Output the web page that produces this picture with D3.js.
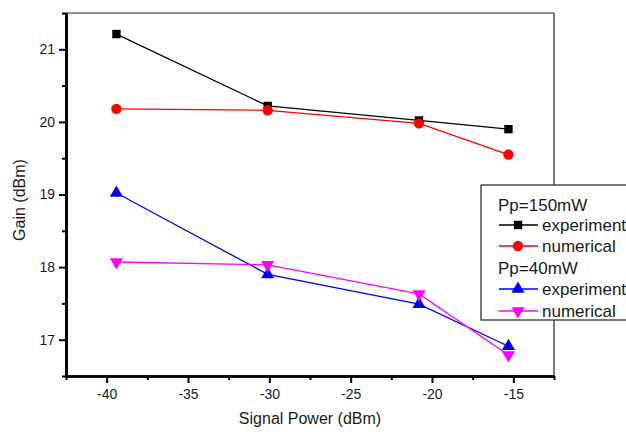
<!DOCTYPE html>
<html>
<head>
<meta charset="utf-8">
<style>
  body { margin: 0; background: #fff; }
  svg { display: block; font-family: "Liberation Sans", Arial, sans-serif; }
</style>
</head>
<body>
<div id="chart"></div>
<script src="https://cdnjs.cloudflare.com/ajax/libs/d3/7.8.5/d3.min.js"></script>
<script>
// signal power (dBm)
var signalPower = [-39.4, -30.1, -20.8, -15.3];
// gain values, Pp=150mW
var exp150 = [21.21, 20.22, 20.02, 19.90];
var num150 = [20.18, 20.16, 19.98, 19.55];
// gain values, Pp=40mW
var exp40 = [19.02, 17.90, 17.49, 16.91];
var num40 = [18.07, 18.03, 17.63, 16.79];

var xMajor = [-40, -35, -30, -25, -20, -15];
var xMinor = [-42.5, -37.5, -32.5, -27.5, -22.5, -17.5, -12.5];
var yMajor = [17, 18, 19, 20, 21];
var yMinor = [16.5, 17.5, 18.5, 19.5, 20.5, 21.5];

var series = [
  { name: "experiment", values: exp150, color: "#000000", sym: "square" },
  { name: "numerical",  values: num150, color: "#ff0000", sym: "circle" },
  { name: "experiment", values: exp40,  color: "#0000ff", sym: "up" },
  { name: "numerical",  values: num40,  color: "#ff00ff", sym: "down" }
];

var W = 626, H = 432;
var pLeft = 66, pRight = 554, pTop = 13, pBottom = 376;

var svg = d3.select("#chart").append("svg")
  .attr("width", W).attr("height", H);

var x = d3.scaleLinear().domain([-42.5, -12.5]).range([pLeft, pRight]);
var y = d3.scaleLinear().domain([16.5, 21.5]).range([pBottom, pTop]);

// plain hyphen minus like the original plot
var fmt = function (d) { return String(d); };

// thin frame top / right
svg.append("line").attr("x1", pLeft).attr("x2", pRight).attr("y1", pTop).attr("y2", pTop)
  .attr("stroke", "#222").attr("stroke-width", 1.2);
svg.append("line").attr("x1", pRight).attr("x2", pRight).attr("y1", pTop).attr("y2", pBottom)
  .attr("stroke", "#222").attr("stroke-width", 1.2);

function styleAxis(g) {
  g.select(".domain").attr("stroke", "#000").attr("stroke-width", 2.6);
  g.selectAll(".tick line").attr("stroke", "#000").attr("stroke-width", 2);
  g.selectAll(".tick text").attr("fill", "#1a1a1a").style("font-size", "14px");
}

// bottom axis
var gx = svg.append("g").attr("transform", "translate(0," + pBottom + ")");
gx.call(d3.axisBottom(x).tickValues(xMinor).tickSize(4).tickSizeOuter(0).tickFormat(""));
var gx2 = svg.append("g").attr("transform", "translate(0," + pBottom + ")");
gx2.call(d3.axisBottom(x).tickValues(xMajor).tickSize(7).tickSizeOuter(0).tickPadding(6)
  .tickFormat(fmt));
styleAxis(gx); styleAxis(gx2);

// left axis
var gy = svg.append("g").attr("transform", "translate(" + pLeft + ",0)");
gy.call(d3.axisLeft(y).tickValues(yMinor).tickSize(4).tickSizeOuter(0).tickFormat(""));
var gy2 = svg.append("g").attr("transform", "translate(" + pLeft + ",0)");
gy2.call(d3.axisLeft(y).tickValues(yMajor).tickSize(7).tickSizeOuter(0).tickPadding(4)
  .tickFormat(fmt));
styleAxis(gy); styleAxis(gy2);

// axis titles
svg.append("text").attr("x", 310).attr("y", 424).attr("text-anchor", "middle")
  .attr("fill", "#1a1a1a").style("font-size", "16px").text("Signal Power (dBm)");
svg.append("text").attr("transform", "translate(25,200) rotate(-90)")
  .attr("text-anchor", "middle").attr("fill", "#1a1a1a").style("font-size", "16px")
  .text("Gain (dBm)");

function symbolPath(sym) {
  if (sym === "square") return d3.symbol().type(d3.symbolSquare).size(70)();
  if (sym === "circle") return d3.symbol().type(d3.symbolCircle).size(85)();
  return d3.symbol().type(d3.symbolTriangle).size(75)();
}

var line = d3.line()
  .x(function (d, i) { return x(signalPower[i]); })
  .y(function (d) { return y(d); });

series.forEach(function (s) {
  svg.append("path").datum(s.values).attr("d", line)
    .attr("fill", "none").attr("stroke", s.color).attr("stroke-width", 1.3);
  svg.selectAll(null).data(s.values).enter().append("path")
    .attr("d", symbolPath(s.sym))
    .attr("transform", function (d, i) {
      return "translate(" + x(signalPower[i]) + "," + y(d) + ")" + (s.sym === "down" ? " rotate(180)" : "");
    })
    .attr("fill", s.color);
});

// legend
var lg = svg.append("g");
lg.append("rect").attr("x", 481).attr("y", 185).attr("width", 160).attr("height", 135)
  .attr("fill", "#fff").attr("stroke", "#222").attr("stroke-width", 1.2);
var rows = [
  { label: "Pp=150mW", y: 205 },
  { s: series[0], y: 225 },
  { s: series[1], y: 246 },
  { label: "Pp=40mW", y: 268 },
  { s: series[2], y: 289 },
  { s: series[3], y: 311 }
];
rows.forEach(function (r) {
  if (r.label) {
    lg.append("text").attr("x", 498).attr("y", r.y).attr("dy", "0.35em")
      .attr("fill", "#1a1a1a").style("font-size", "17px").text(r.label);
    return;
  }
  lg.append("line").attr("x1", 499).attr("x2", 538).attr("y1", r.y).attr("y2", r.y)
    .attr("stroke", r.s.color).attr("stroke-width", 1.3);
  lg.append("path").attr("d", symbolPath(r.s.sym))
    .attr("transform", "translate(518," + r.y + ")" + (r.s.sym === "down" ? " rotate(180)" : ""))
    .attr("fill", r.s.color);
  lg.append("text").attr("x", 542).attr("y", r.y).attr("dy", "0.35em")
    .attr("fill", "#1a1a1a").style("font-size", "17px").text(r.s.name);
});
</script>
</body>
</html>
